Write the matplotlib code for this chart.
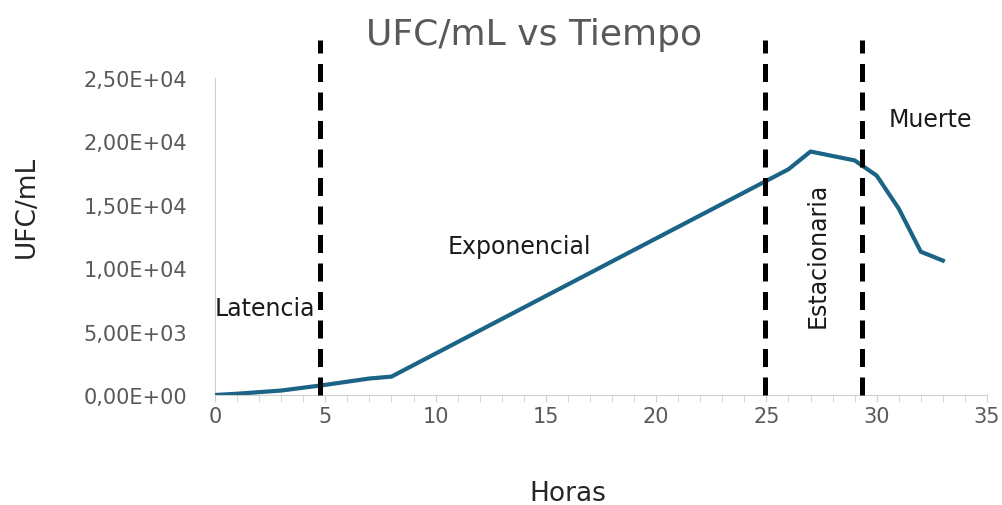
import matplotlib.pyplot as plt
from matplotlib.ticker import MultipleLocator, FuncFormatter

# growth curve data
hours = [0, 1, 3, 5, 7, 8, 26, 27, 28, 29, 30, 31, 32, 33]
ufc = [0, 100, 350, 800, 1300, 1450, 17800, 19200, 18850, 18500, 17300, 14700, 11300, 10600]

# phase boundaries and labels
phase_x = [4.78, 24.95, 29.35]
phase_labels = ['Latencia', 'Exponencial', 'Estacionaria', 'Muerte']

plt.rcParams["font.family"] = "DejaVu Sans"

fig = plt.figure(figsize=(10.02, 5.06), dpi=100)
ax = fig.add_axes([0.2146, 0.2174, 0.7704, 0.6265])

ax.plot(hours, ufc, color='#1B6485', lw=3, solid_joinstyle='round', zorder=3)

for x in phase_x:
    ax.plot([x, x], [0, 28000], color='black', lw=3.6, dashes=(3.6, 2.1),
            clip_on=False, zorder=4)

txt = dict(fontsize=17, color='#1a1a1a')
ax.text(0.0, 6900, phase_labels[0], ha='left', va='center', **txt)
ax.text(13.8, 11750, phase_labels[1], ha='center', va='center', **txt)
ax.text(27.3, 11100, phase_labels[2], ha='center', va='center', rotation=90, **txt)
ax.text(32.45, 21800, phase_labels[3], ha='center', va='center', **txt)

ax.set_xlim(0, 35)
ax.set_ylim(0, 25000)
ax.xaxis.set_major_locator(MultipleLocator(5))
ax.xaxis.set_minor_locator(MultipleLocator(1))
ax.yaxis.set_major_locator(MultipleLocator(5000))

def sci_comma(v, pos):
    s = '%.2E' % v
    return s.replace('.', ',')

ax.yaxis.set_major_formatter(FuncFormatter(sci_comma))

for side in ['top', 'right']:
    ax.spines[side].set_visible(False)
ax.spines['left'].set_color('#D0D0D0')
ax.spines['bottom'].set_color('#D0D0D0')

ax.tick_params(axis='y', length=0, pad=20, labelsize=15, labelcolor='#595959')
ax.tick_params(axis='x', which='both', length=5, color='#D0D0D0', direction='out',
               labelsize=15, labelcolor='#595959', pad=3)

fig.text(534 / 1002, 1 - 35 / 506, 'UFC/mL vs Tiempo', fontsize=26, color='#595959',
         ha='center', va='center')
fig.text(568 / 1002, 1 - 494 / 506, 'Horas', fontsize=19, color='#262626',
         ha='center', va='center')
fig.text(27 / 1002, 1 - 207 / 506, 'UFC/mL', fontsize=19, color='#262626',
         ha='center', va='center', rotation=90)

fig.savefig('out.png', dpi=100)
